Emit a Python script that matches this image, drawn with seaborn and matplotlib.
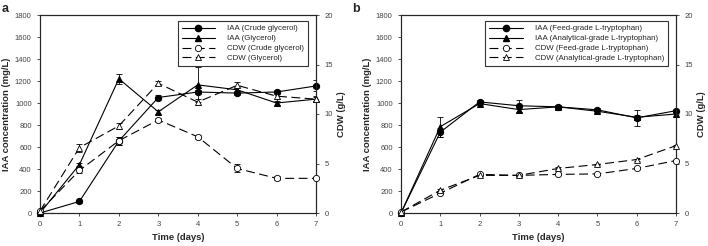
import numpy as np
import pandas as pd
import seaborn as sns
import matplotlib.pyplot as plt
from matplotlib.lines import Line2D

# Data
days = [0, 1, 2, 3, 4, 5, 6, 7]

# panel a
iaa_crude = [0, 105, 655, 1050, 1100, 1090, 1100, 1155]
iaa_crude_err = [0, 10, 40, 20, 20, 20, 20, 50]
iaa_gly = [0, 440, 1220, 920, 1165, 1120, 1000, 1035]
iaa_gly_err = [0, 15, 45, 20, 160, 30, 20, 30]
cdw_crude = [0.2, 4.3, 7.3, 9.4, 7.7, 4.5, 3.5, 3.5]
cdw_crude_err = [0.1, 0.3, 0.4, 0.2, 0.2, 0.4, 0.2, 0.1]
cdw_gly = [0.2, 6.6, 8.8, 13.1, 11.2, 12.9, 11.8, 11.5]
cdw_gly_err = [0.1, 0.4, 0.3, 0.2, 0.3, 0.3, 0.3, 0.2]

# panel b
iaa_feed = [0, 735, 1010, 975, 965, 938, 865, 930]
iaa_feed_err = [0, 40, 20, 55, 15, 15, 70, 20]
iaa_anal = [0, 785, 995, 940, 965, 925, 870, 900]
iaa_anal_err = [0, 90, 15, 30, 15, 15, 20, 25]
cdw_feed = [0.1, 2.0, 3.9, 3.8, 3.9, 3.95, 4.5, 5.3]
cdw_feed_err = [0.05, 0.1, 0.1, 0.1, 0.1, 0.1, 0.1, 0.1]
cdw_anal = [0.1, 2.3, 3.8, 3.8, 4.5, 4.9, 5.4, 6.8]
cdw_anal_err = [0.05, 0.1, 0.1, 0.1, 0.1, 0.1, 0.1, 0.1]

sns.set_style("ticks")
plt.rcParams["font.family"] = ["Liberation Sans", "DejaVu Sans"]
plt.rcParams["axes.linewidth"] = 0.8
plt.rcParams["xtick.major.width"] = 0.6
plt.rcParams["ytick.major.width"] = 0.6
plt.rcParams["xtick.major.size"] = 2.5
plt.rcParams["ytick.major.size"] = 2.5

fig = plt.figure(figsize=(7.08, 2.46), dpi=100)
ax_a = fig.add_axes([40 / 708, 1 - 213 / 246, 276 / 708, 198 / 246])
ax_b = fig.add_axes([401 / 708, 1 - 213 / 246, 275 / 708, 198 / 246])


def draw(ax, series_left, series_right, labels):
    ax2 = ax.twinx()
    handles = []
    for (vals, err, marker), lab in zip(series_left, labels[:2]):
        df = pd.DataFrame({"day": days, "val": vals})
        sns.lineplot(data=df, x="day", y="val", ax=ax, color="black", lw=0.8,
                     marker=marker, markersize=4.5, markerfacecolor="black",
                     markeredgecolor="black", clip_on=False, zorder=3)
        ax.errorbar(days, vals, yerr=err, fmt="none", ecolor="black",
                    elinewidth=0.6, capsize=2, capthick=0.6, zorder=2)
        handles.append(Line2D([], [], color="black", lw=0.8, marker=marker,
                              markersize=4.5, label=lab))
    for (vals, err, marker), lab in zip(series_right, labels[2:]):
        df = pd.DataFrame({"day": days, "val": vals})
        sns.lineplot(data=df, x="day", y="val", ax=ax2, color="black", lw=0.8,
                     marker=marker, markersize=4.5, markerfacecolor="white",
                     markeredgecolor="black", markeredgewidth=0.6,
                     dashes=(8, 4), clip_on=False, zorder=3)
        ax2.errorbar(days, vals, yerr=err, fmt="none", ecolor="black",
                     elinewidth=0.6, capsize=2, capthick=0.6, zorder=2)
        handles.append(Line2D([], [], color="black", lw=0.8, marker=marker,
                              markersize=4.5, markerfacecolor="white",
                              markeredgewidth=0.6, dashes=(8, 4), label=lab))

    ax.set_xlim(0, 7)
    ax.set_ylim(0, 1800)
    ax2.set_ylim(0, 20)
    ax.set_xticks(range(8))
    ax.set_yticks(range(0, 1801, 200))
    ax2.set_yticks(range(0, 21, 5))
    ax.tick_params(labelsize=5.5, colors="#333333", labelcolor="#444444")
    ax2.tick_params(labelsize=5.5, colors="#333333", labelcolor="#444444")
    ax.set_xlabel("Time (days)", fontsize=6.8, fontweight="bold", labelpad=3)
    ax.set_ylabel("IAA concentration (mg/L)", fontsize=6.8, fontweight="bold", labelpad=3)
    ax2.set_ylabel("CDW (g/L)", fontsize=6.8, fontweight="bold", labelpad=3)
    for sp in ax2.spines.values():
        sp.set_visible(True)
        sp.set_linewidth(0.8)
    leg = ax2.legend(handles=handles, loc="upper right", fontsize=5.7,
                     frameon=True, fancybox=False, edgecolor="black",
                     handlelength=4.2, borderpad=0.5, labelspacing=0.3,
                     handletextpad=1.5, bbox_to_anchor=(0.985, 0.99))
    leg.get_frame().set_linewidth(0.8)


draw(ax_a,
     [(iaa_crude, iaa_crude_err, "o"), (iaa_gly, iaa_gly_err, "^")],
     [(cdw_crude, cdw_crude_err, "o"), (cdw_gly, cdw_gly_err, "^")],
     ["IAA (Crude glycerol)", "IAA (Glycerol)",
      "CDW (Crude glycerol)", "CDW (Glycerol)"])
draw(ax_b,
     [(iaa_feed, iaa_feed_err, "o"), (iaa_anal, iaa_anal_err, "^")],
     [(cdw_feed, cdw_feed_err, "o"), (cdw_anal, cdw_anal_err, "^")],
     ["IAA (Feed-grade L-tryptophan)", "IAA (Analytical-grade L-tryptophan)",
      "CDW (Feed-grade L-tryptophan)", "CDW (Analytical-grade L-tryptophan)"])

fig.text(2 / 708, 1 - 12 / 246, "a", fontsize=9, fontweight="bold", va="baseline")
fig.text(352 / 708, 1 - 12 / 246, "b", fontsize=9, fontweight="bold", va="baseline")

fig.savefig("out.png", dpi=100)
